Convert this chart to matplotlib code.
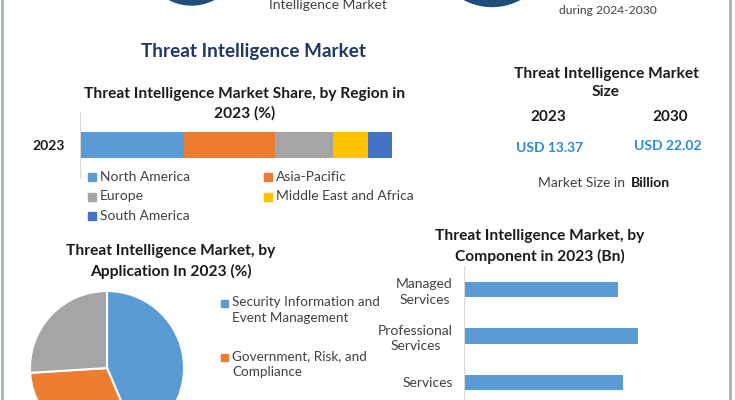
import matplotlib
matplotlib.use('Agg')
import matplotlib.pyplot as plt
import numpy as np
from matplotlib.patches import Circle, Rectangle

plt.rcParams['font.family'] = ['Lato', 'DejaVu Sans']

W, H = 735, 400

# ---------------- data ----------------
region_names = ['North America', 'Asia-Pacific', 'Europe', 'Middle East and Africa', 'South America']
region_share = [33.3, 29.2, 18.6, 11.2, 7.7]
region_colors = ['#5b9bd5', '#ed7d31', '#a5a5a5', '#ffc000', '#4472c4']
region_year = '2023'

app_names = ['Security Information and\nEvent Management', 'Government, Risk, and\nCompliance', 'Others']
app_share = [43.6, 30.4, 26.0]
app_colors = ['#5b9bd5', '#ed7d31', '#a5a5a5']

comp_names = ['Managed\nServices', 'Professional\nServices', 'Services']
comp_values = [4.23, 4.78, 4.37]
comp_color = '#5b9bd5'

size_years = ['2023', '2030']
size_values = ['USD 13.37', 'USD 22.02']

DARK = '#1a1a1a'
GREY = '#404040'
AXIS = '#d9d9d9'
TSIZE = 11.2

fig = plt.figure(figsize=(7.35, 4.0), dpi=100)


def fax(x0, y0, x1, y1):
    return fig.add_axes([x0 / W, 1 - y1 / H, (x1 - x0) / W, (y1 - y0) / H])


bg = fig.add_axes([0, 0, 1, 1])
bg.set_xlim(0, W)
bg.set_ylim(H, 0)
bg.axis('off')

# frame lines
bg.plot([2, 2], [0, H], color='#9fb0c6', lw=2)
bg.plot([730, 730], [0, H], color='#9fb0c6', lw=2)

# cut-off icons at top
bg.add_patch(Circle((191.5, -43.7), 48.7, color='#1f4e79'))
bg.add_patch(Circle((492, -52.5), 59, color='#1f4e79'))
bg.text(328, 5, 'Intelligence Market', ha='center', va='center', fontsize=10, color=GREY)
bg.text(608, 11, 'during 2024-2030', ha='center', va='center', fontsize=8.7, color=GREY)

# main title
bg.text(254, 52, 'Threat Intelligence Market', ha='center', va='center', fontsize=13.6,
        fontweight='bold', color='#203864')

# ---------------- region stacked bar ----------------
bg.text(245, 104, 'Threat Intelligence Market Share, by Region in\n2023 (%)', ha='center',
        va='center', fontsize=TSIZE, fontweight='bold', color=DARK, linespacing=1.4)
axr = fax(80, 112, 392, 178)
lefts = np.concatenate([[0], np.cumsum(region_share)[:-1]])
axr.barh([0] * len(region_share), region_share, left=lefts, height=0.39, color=region_colors)
axr.set_xlim(0, 100)
axr.set_ylim(-0.5, 0.5)
axr.set_xticks([])
axr.set_yticks([0])
axr.set_yticklabels([region_year], fontsize=10, fontweight='bold', color=DARK)
axr.tick_params(axis='y', length=0, pad=11)
for s in ['top', 'right', 'bottom']:
    axr.spines[s].set_visible(False)
axr.spines['left'].set_color(AXIS)
axr.set_facecolor('none')

col_x = [88, 264]
for i, (name, c) in enumerate(zip(region_names, region_colors)):
    r, cc = i // 2, i % 2
    x = col_x[cc]
    y = 177 + 19.5 * r
    bg.add_patch(Rectangle((x, y - 4), 8, 8, color=c))
    bg.text(x + 12, y, name, ha='left', va='center', fontsize=10, color=GREY)

# ---------------- market size block ----------------
bg.text(606, 83, 'Threat Intelligence Market\nSize', ha='center', va='center', fontsize=TSIZE,
        fontweight='bold', color=DARK, linespacing=1.4)
for x, yr in zip([548, 670], size_years):
    bg.text(x, 117, yr, ha='center', va='center', fontsize=11, fontweight='bold', color=DARK)
for x, y, v in zip([550, 668], [148, 146], size_values):
    bg.text(x, y, v, ha='center', va='center', fontsize=10, fontweight='bold', color='#2a8ad4')
bg.text(538, 183, 'Market Size in', ha='left', va='center', fontsize=10, color=GREY)
bg.text(631, 183, 'Billion', ha='left', va='center', fontsize=10, fontweight='bold', color=DARK)

# ---------------- application pie ----------------
bg.text(171, 261.5, 'Threat Intelligence Market, by\nApplication In 2023 (%)', ha='center',
        va='center', fontsize=TSIZE, fontweight='bold', color=DARK, linespacing=1.45)
axp = fax(30, 291, 184, 445)
axp.pie(app_share, colors=app_colors, startangle=90, counterclock=False,
        wedgeprops=dict(edgecolor='white', linewidth=1.5))
axp.set_xlim(-1, 1)
axp.set_ylim(-1, 1)
for i, (name, c) in enumerate(zip(app_names, app_colors)):
    y = 303 + 54 * i
    if y > H - 10:
        continue  # entry lies below the visible canvas, as in the reference crop
    bg.add_patch(Rectangle((221, y - 3.5), 7, 7, color=c))
    bg.text(232, y - 7, name, ha='left', va='top', fontsize=9.7, color=GREY, linespacing=1.45)

# ---------------- component bars ----------------
bg.text(540, 246.5, 'Threat Intelligence Market, by\nComponent in 2023 (Bn)', ha='center',
        va='center', fontsize=TSIZE, fontweight='bold', color=DARK, linespacing=1.45)
axc = fax(464, 266, 464 + 254.8, 400)
pos = np.arange(len(comp_values))
axc.barh(pos, comp_values, height=0.34, color=comp_color)
axc.set_xlim(0, 7)
axc.set_ylim(2.377, -0.505)
axc.set_xticks([])
axc.set_yticks(pos)
axc.set_yticklabels(comp_names, fontsize=10, color=GREY, multialignment='center',
                    linespacing=1.35)
axc.tick_params(axis='y', length=0, pad=8)
for s in ['top', 'right', 'bottom']:
    axc.spines[s].set_visible(False)
axc.spines['left'].set_color(AXIS)
axc.set_facecolor('none')

fig.savefig('out.png', dpi=100)
